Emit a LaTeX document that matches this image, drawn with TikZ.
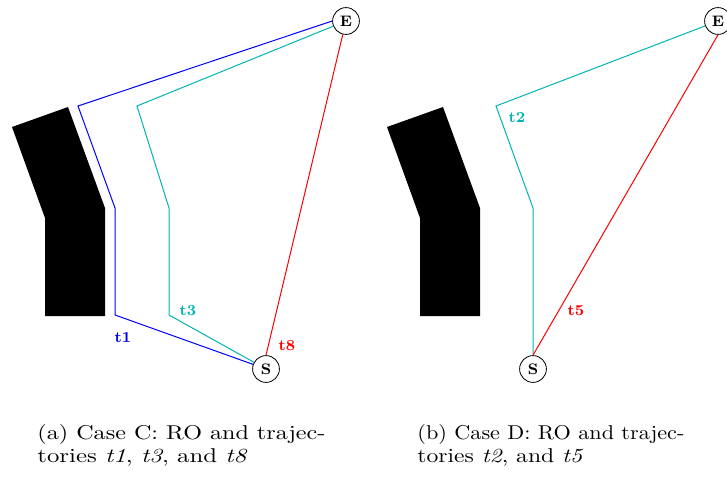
\documentclass[tikz,border=0pt]{standalone}
\usepackage{graphicx}
\definecolor{tcyan}{RGB}{0,180,180}
\begin{document}
\begin{tikzpicture}[x=0.5pt,y=-0.5pt,
  term/.style={circle,draw,font=\fontsize{7.6}{9}\selectfont\bfseries,inner sep=0pt,minimum size=13.4pt,fill=white},
  lbl/.style={font=\fontsize{7.6}{9}\selectfont\bfseries},
  captext/.style={anchor=base west,inner sep=0pt,font=\normalsize},
  obst/.style={fill=black},
  traj/.style={line width=0.5pt}]
\useasboundingbox (0,0) rectangle (727,476);
% obstacles
\fill[obst] (12,127) -- (68,107) -- (105,208) -- (105,316) -- (45,316) -- (45,218) -- cycle;
\fill[obst] (387,127) -- (443,107) -- (480,208) -- (480,316) -- (420,316) -- (420,218) -- cycle;
% nodes (a)
\node[term] (E1) at (346,21) {E};
\node[term] (S1) at (266,369) {S};
\coordinate (a1) at (78,106);
\coordinate (a2) at (115,208);
\coordinate (a3) at (115,315);
\coordinate (b1) at (137,106);
\coordinate (b2) at (169,208);
\coordinate (b3) at (169,315);
\draw[traj,blue] (E1.west) -- (a1) -- (a2) -- (a3) -- (S1);
\draw[traj,tcyan] (E1) -- (b1) -- (b2) -- (b3) -- (S1);
\draw[traj,red] (S1.north) -- (E1);
\node[lbl,text=blue] (l1) at (123,338) {t1};
\node[lbl,text=tcyan] (l3) at (188,311) {t3};
\node[lbl,text=red] (l8) at (287,346) {t8};
% nodes (b)
\node[term] (E2) at (718,21) {E};
\node[term] (S2) at (533,369) {S};
\coordinate (c1) at (496,106);
\coordinate (c2) at (533,208);
\draw[traj,tcyan] (E2) -- (c1) -- (c2) -- (S2.north);
\draw[traj,red] (S2.north) -- (E2.south);
\node[lbl,text=tcyan] (l2) at (517,118) {t2};
\node[lbl,text=red] (l5) at (576,311) {t5};
% captions
\node[captext] (ca1) at (37,439) {\resizebox{144pt}{\height}{(a) Case C: RO and trajec-}};
\node[captext] (ca2) at (37,462.5) {\resizebox{105pt}{\height}{tories \textit{t1}, \textit{t3}, and \textit{t8}}};
\node[captext] (cb1) at (417,439) {\resizebox{133.5pt}{\height}{(b) Case D: RO and trajec-}};
\node[captext] (cb2) at (417,462.5) {\resizebox{83pt}{\height}{tories \textit{t2}, and \textit{t5}}};
\end{tikzpicture}
\end{document}
